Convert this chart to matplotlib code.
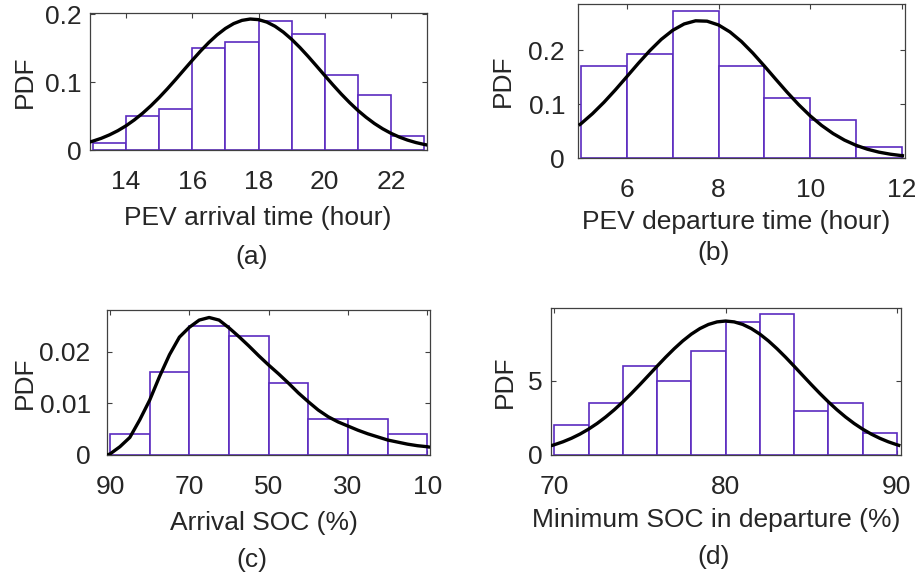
import matplotlib
matplotlib.use("Agg")
import matplotlib.pyplot as plt

plt.rcParams['font.family'] = ['Liberation Sans', 'DejaVu Sans']

# ---------------- data ----------------
# (a) PEV arrival time
a_edges = [13, 14, 15, 16, 17, 18, 19, 20, 21, 22, 23]
a_pdf = [0.011, 0.050, 0.061, 0.150, 0.159, 0.190, 0.170, 0.110, 0.081, 0.021]
a_curve_x = [12.9, 13.0, 13.25, 13.5, 13.75, 14.0, 14.25, 14.5, 14.75, 15.0, 15.25,
             15.5, 15.75, 16.0, 16.25, 16.5, 16.75, 17.0, 17.25, 17.5, 17.75, 18.0,
             18.25, 18.5, 18.75, 19.0, 19.25, 19.5, 19.75, 20.0, 20.25, 20.5, 20.75,
             21.0, 21.25, 21.5, 21.75, 22.0, 22.25, 22.5, 22.75, 23.0, 23.1]
a_curve_y = [0.0117, 0.0131, 0.0172, 0.0223, 0.0284, 0.0357, 0.0443, 0.0541, 0.0651,
             0.0772, 0.0902, 0.1039, 0.1180, 0.1320, 0.1456, 0.1582, 0.1694, 0.1788,
             0.1860, 0.1907, 0.1927, 0.1918, 0.1882, 0.1820, 0.1734, 0.1629, 0.1508,
             0.1376, 0.1237, 0.1096, 0.0957, 0.0823, 0.0698, 0.0583, 0.0481, 0.0390,
             0.0312, 0.0246, 0.0191, 0.0146, 0.0110, 0.0082, 0.0073]
a_xticks = [14, 16, 18, 20, 22]
a_yticks = [0, 0.1, 0.2]
a_yticklabels = ['0', '0.1', '0.2']

# (b) PEV departure time
b_edges = [5, 6, 7, 8, 9, 10, 11, 12]
b_pdf = [0.171, 0.193, 0.273, 0.171, 0.112, 0.071, 0.021]
b_curve_x = [4.95, 5.0, 5.25, 5.5, 5.75, 6.0, 6.25, 6.5, 6.75, 7.0, 7.25, 7.5, 7.75,
             8.0, 8.25, 8.5, 8.75, 9.0, 9.25, 9.5, 9.75, 10.0, 10.25, 10.5, 10.75,
             11.0, 11.25, 11.5, 11.75, 12.0, 12.05]
b_curve_y = [0.0608, 0.0641, 0.0826, 0.1036, 0.1267, 0.1511, 0.1757, 0.1991, 0.2200,
             0.2368, 0.2486, 0.2544, 0.2537, 0.2467, 0.2338, 0.2161, 0.1946, 0.1708,
             0.1462, 0.1220, 0.0992, 0.0786, 0.0608, 0.0458, 0.0336, 0.0241, 0.0168,
             0.0114, 0.0076, 0.0049, 0.0045]
b_xticks = [6, 8, 10, 12]
b_yticks = [0, 0.1, 0.2]
b_yticklabels = ['0', '0.1', '0.2']

# (c) Arrival SOC
c_edges = [90, 80, 70, 60, 50, 40, 30, 20, 10]
c_pdf = [0.004, 0.016, 0.025, 0.023, 0.014, 0.007, 0.007, 0.004]
c_curve_x = [90.7, 90.0, 87.5, 85.0, 82.5, 80.0, 77.5, 75.0, 72.5, 70.0, 67.5, 65.0,
             62.5, 60.0, 57.5, 55.0, 52.5, 50.0, 47.5, 45.0, 42.5, 40.0, 37.5, 35.0,
             32.5, 30.0, 27.5, 25.0, 22.5, 20.0, 17.5, 15.0, 12.5, 10.0, 9.3]
c_curve_y = [0.0000, 0.0002, 0.0016, 0.0034, 0.0068, 0.0106, 0.0152, 0.0194, 0.0228,
             0.0247, 0.0261, 0.0266, 0.0261, 0.0246, 0.0229, 0.0211, 0.0192, 0.0174,
             0.0157, 0.0139, 0.0120, 0.0103, 0.0087, 0.0074, 0.0064, 0.0056, 0.0048,
             0.0041, 0.0035, 0.0029, 0.0025, 0.0021, 0.0018, 0.0016, 0.0015]
c_xticks = [90, 70, 50, 30, 10]
c_yticks = [0, 0.01, 0.02]
c_yticklabels = ['0', '0.01', '0.02']

# (d) Minimum SOC in departure
d_edges = [70, 72, 74, 76, 78, 80, 82, 84, 86, 88, 90]
d_pdf = [2.0, 3.5, 6.0, 5.0, 7.0, 9.0, 9.5, 3.0, 3.5, 1.5]
d_curve_x = [69.8, 70.0, 70.5, 71.0, 71.5, 72.0, 72.5, 73.0, 73.5, 74.0, 74.5, 75.0,
             75.5, 76.0, 76.5, 77.0, 77.5, 78.0, 78.5, 79.0, 79.5, 80.0, 80.5, 81.0,
             81.5, 82.0, 82.5, 83.0, 83.5, 84.0, 84.5, 85.0, 85.5, 86.0, 86.5, 87.0,
             87.5, 88.0, 88.5, 89.0, 89.5, 90.0, 90.2]
d_curve_y = [0.624, 0.692, 0.890, 1.129, 1.413, 1.747, 2.131, 2.568, 3.054, 3.587,
             4.159, 4.759, 5.377, 5.998, 6.606, 7.180, 7.707, 8.166, 8.541, 8.820,
             8.992, 9.050, 8.992, 8.820, 8.541, 8.166, 7.707, 7.180, 6.606, 5.998,
             5.377, 4.759, 4.159, 3.587, 3.054, 2.568, 2.131, 1.747, 1.413, 1.129,
             0.890, 0.692, 0.624]
d_xticks = [70, 80, 90]
d_yticks = [0, 5]
d_yticklabels = ['0', '5']

xlabels = ['PEV arrival time (hour)', 'PEV departure time (hour)',
           'Arrival SOC (%)', 'Minimum SOC in departure (%)']
tags = ['(a)', '(b)', '(c)', '(d)']

# ---------------- layout / style ----------------
W, H = 920, 580
fig = plt.figure(figsize=(W / 100, H / 100), dpi=100)

TXT = '#262626'
BAR = '#5B2BC0'
FS = 19


def px_axes(l, t, r, b):
    return fig.add_axes([l / W, 1 - b / H, (r - l) / W, (b - t) / H])


panels = [
    dict(box=(90, 12.7, 426.7, 150), edges=a_edges, pdf=a_pdf, cx=a_curve_x, cy=a_curve_y,
         xlim=(12.91, 23.08), ylim=(0, 0.202), xt=a_xticks, yt=a_yticks, ytl=a_yticklabels,
         ypad=6, xl_x=258, xl_y=218, tag_x=252, tag_y=257, yl_x=25),
    dict(box=(578.3, 4, 905, 158.3), edges=b_edges, pdf=b_pdf, cx=b_curve_x, cy=b_curve_y,
         xlim=(4.94, 12.07), ylim=(0, 0.2855), xt=b_xticks, yt=b_yticks, ytl=b_yticklabels,
         ypad=9.5, xl_x=736, xl_y=222, tag_x=714, tag_y=253, yl_x=503),
    dict(box=(107.3, 310, 430, 455), edges=c_edges, pdf=c_pdf, cx=c_curve_x, cy=c_curve_y,
         xlim=(90.68, 9.32), ylim=(0, 0.02805), xt=c_xticks, yt=c_yticks, ytl=c_yticklabels,
         ypad=12, xl_x=264, xl_y=523, tag_x=252, tag_y=560, yl_x=25),
    dict(box=(550.7, 308.3, 900.7, 455), edges=d_edges, pdf=d_pdf, cx=d_curve_x, cy=d_curve_y,
         xlim=(69.79, 90.22), ylim=(0, 9.91), xt=d_xticks, yt=d_yticks, ytl=d_yticklabels,
         ypad=6, xl_x=716, xl_y=520, tag_x=714, tag_y=557, yl_x=505),
]

for i, p in enumerate(panels):
    l, t, r, b = p['box']
    ax = px_axes(l, t, r, b)
    edges = p['edges']
    lefts = edges[:-1]
    widths = [edges[k + 1] - edges[k] for k in range(len(edges) - 1)]
    ax.bar(lefts, p['pdf'], width=widths, align='edge', facecolor='white',
           edgecolor=BAR, linewidth=1.2, zorder=2)
    ax.plot(p['cx'], p['cy'], color='black', linewidth=2.4, zorder=3,
            solid_capstyle='butt')
    ax.set_xlim(*p['xlim'])
    ax.set_ylim(*p['ylim'])
    ax.set_xticks(p['xt'])
    ax.set_xticklabels([str(v) for v in p['xt']])
    ax.set_yticks(p['yt'])
    ax.set_yticklabels(p['ytl'])
    ax.tick_params(direction='in', top=True, right=True, length=3.5, width=0.8,
                   colors='#404040', labelcolor=TXT, labelsize=FS)
    ax.tick_params(axis='x', pad=14.5)
    ax.tick_params(axis='y', pad=p['ypad'])
    for s in ax.spines.values():
        s.set_color('#404040')
        s.set_linewidth(0.9)

    ax.set_xlabel(xlabels[i], fontsize=FS, color=TXT)
    ax.xaxis.set_label_coords((p['xl_x'] - l) / (r - l), -(p['xl_y'] - b) / (b - t))
    ax.xaxis.label.set_va('center')
    ax.set_ylabel('PDF', fontsize=FS, color=TXT)
    ax.yaxis.set_label_coords(-(l - p['yl_x']) / (r - l), 0.5)
    ax.yaxis.label.set_va('center')
    fig.text(p['tag_x'] / W, 1 - p['tag_y'] / H, tags[i], ha='center', va='center',
             fontsize=FS, color=TXT)

fig.savefig('out.png', dpi=100, facecolor='white')
